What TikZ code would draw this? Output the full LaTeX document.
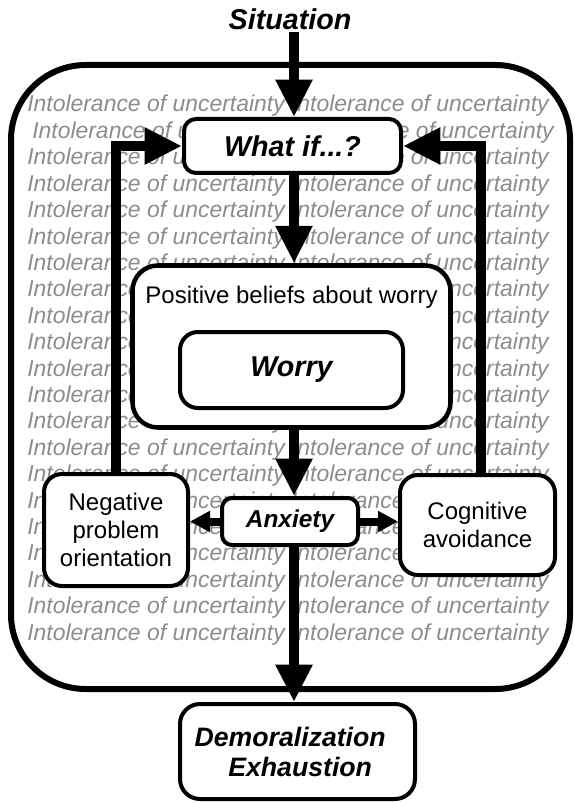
\documentclass[tikz,border=0pt]{standalone}
\usepackage{fontspec}
\setmainfont{Liberation Sans}
\usetikzlibrary{arrows.meta}
\begin{document}
\begin{tikzpicture}[x=0.75pt,y=-0.75pt,
    box/.style={draw,line width=3pt,fill=white,rounded corners=#1,inner sep=0pt,align=center},
    box/.default=9pt,
    bgtext/.style={anchor=base west,inner sep=0pt,text=black!45,font=\fontsize{17.2pt}{20pt}\selectfont\itshape},
    bold/.style={font=\fontsize{#1}{22.5pt}\selectfont\bfseries\itshape},
    plain/.style={font=\fontsize{18pt}{21pt}\selectfont},
    bigarrow/.style={line width=7.5pt,-{Triangle[width=26pt,length=28pt]}},
    smallarrow/.style={line width=6pt,-{Triangle[width=15pt,length=15pt]}}]
\useasboundingbox (0,0) rectangle (574,802);

\foreach \k in {1,...,21}{
    \pgfmathsetmacro\xs{\k==2 ? 32 : 27}
    \node[bgtext] (row\k) at ({\xs},{112+26.4*(\k-1)}) {Intolerance of uncertainty Intolerance of uncertainty};
}

\draw[line width=4.5pt,rounded corners=56pt] (11,65) rectangle (570,689);

\coordinate (spine) at (294,0);
\coordinate (rcol) at (481,0);

\node[bold=21.5pt,inner sep=2pt] (situation) at (290,19) {Situation};
\node[box,bold=21.5pt,minimum width=162.75pt,minimum height=40.5pt] (whatif) at (292.5,146) {What if...?};
\node[box=19pt,line width=3.4pt,minimum width=238.5pt,minimum height=121.5pt] (beliefs) at (291.5,346.5) {};
\node[plain] (beliefstext) at (291.5,297) {Positive beliefs about worry};
\node[box=13.5pt,bold=21.5pt,minimum width=167.25pt,minimum height=57pt] (worry) at (291.5,370) {Worry};
\node[box=7.5pt,bold=18.3pt,minimum width=102pt,minimum height=35.25pt] (anxiety) at (290,521.5) {Anxiety};
\node[box=13.5pt,plain,minimum width=108pt,minimum height=84pt] (negative) at (116,530) {Negative\\problem\\orientation};
\node[box=13.5pt,plain,minimum width=116.25pt,minimum height=75pt] (cognitive) at (477.5,525) {Cognitive\\avoidance};
\node[box=15pt,bold=20pt,minimum width=176.25pt,minimum height=71.25pt] (demoral) at (297.5,751.5) {Demoralization\hspace*{11pt}\\\hspace*{4pt}Exhaustion};

\draw[bigarrow] (situation.south -| spine) -- (whatif.north -| spine);
\draw[bigarrow] (whatif.south -| spine) -- (beliefs.north -| spine);
\draw[bigarrow] (beliefs.south -| spine) -- (anxiety.north -| spine);
\draw[bigarrow] (anxiety.south -| spine) -- (demoral.north -| spine);
\draw[bigarrow] (negative.north) |- (whatif.west);
\draw[bigarrow] (cognitive.north -| rcol) |- (whatif.east);
\draw[smallarrow] (anxiety.west) -- (anxiety.west -| negative.east);
\draw[smallarrow] (anxiety.east) -- (anxiety.east -| cognitive.west);
\end{tikzpicture}
\end{document}
